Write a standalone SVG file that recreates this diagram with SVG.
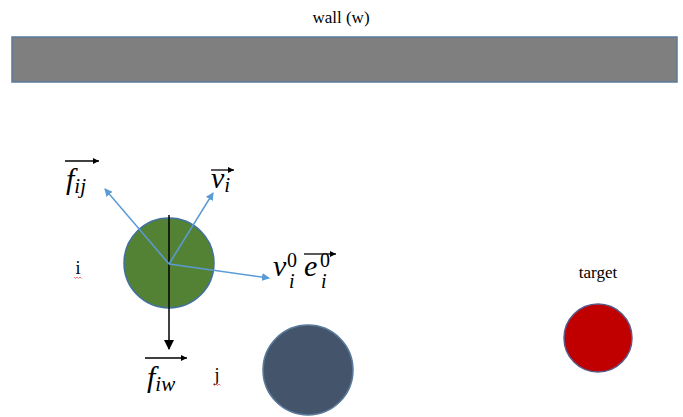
<svg xmlns="http://www.w3.org/2000/svg" width="683" height="417" viewBox="0 0 683 417">
<defs>
<marker id="blueHead" markerWidth="8" markerHeight="8" refX="7" refY="4" orient="auto" markerUnits="userSpaceOnUse"><path d="M0,0 L8,4 L0,8 Z" fill="#5B9BD5"/></marker>
<marker id="blackHead" markerWidth="10" markerHeight="10" refX="9" refY="5" orient="auto" markerUnits="userSpaceOnUse"><path d="M0,0 L10,5 L0,10 Z" fill="#000"/></marker>
<marker id="vecHead" markerWidth="6" markerHeight="6" refX="6" refY="3" orient="auto" markerUnits="userSpaceOnUse"><path d="M0,0 L6,3 L0,6 Z" fill="#000"/></marker>
</defs>
<style>
.lbl{font-family:"Liberation Serif",serif;fill:#000}
.math{font-family:"Liberation Serif",serif;font-style:italic;fill:#000}
.up{font-style:normal}
.blue{stroke:#5B9BD5;stroke-width:1.5;fill:none;marker-end:url(#blueHead)}
.vec{stroke:#000;stroke-width:1.3;fill:none;marker-end:url(#vecHead)}
.squig{stroke:#E05050;stroke-width:0.8;fill:none}
</style>
<rect width="683" height="417" fill="#fff"/>
<g id="wall">
<text class="lbl" x="341" y="23" font-size="17" text-anchor="middle">wall (w)</text>
<rect x="12" y="37" width="665" height="45" fill="#7F7F7F" stroke="#5A7A9A" stroke-width="1.5"/>
</g>
<g id="pedestrian-i">
<circle cx="169" cy="263" r="45" fill="#548235" stroke="#41719C" stroke-width="1.5"/>
<text class="lbl" x="78" y="274" font-size="18" text-anchor="middle">i</text>
<path class="squig" d="M74,277 l1.5,1.5 l1.5,-1.5 l1.5,1.5 l1.5,-1.5 l1.5,1.5"/>
</g>
<g id="pedestrian-j">
<circle cx="308" cy="370" r="45" fill="#44546A" stroke="#5A7A9A" stroke-width="1.5"/>
<text class="lbl" x="217" y="381" font-size="18" text-anchor="middle">j</text>
<path class="squig" d="M213,384 l1.5,1.5 l1.5,-1.5 l1.5,1.5 l1.5,-1.5 l1.5,1.5"/>
</g>
<g id="target">
<text class="lbl" x="598" y="278" font-size="17" text-anchor="middle">target</text>
<circle cx="598" cy="338" r="34" fill="#C00000" stroke="#5A5A8A" stroke-width="1.5"/>
</g>
<g id="connectors">
<line x1="169" y1="215" x2="169" y2="349" stroke="#000" stroke-width="1.5" marker-end="url(#blackHead)"/>
<line class="blue" x1="169" y1="264" x2="105" y2="189"/>
<line class="blue" x1="169" y1="264" x2="213" y2="193"/>
<line class="blue" x1="169" y1="264" x2="269" y2="278"/>
</g>
<g id="label-fij">
<line class="vec" x1="65" y1="161" x2="99" y2="161"/>
<text class="math" x="66" y="189" font-size="30">f<tspan font-size="21" dy="4">ij</tspan></text>
</g>
<g id="label-vi">
<line class="vec" x1="211" y1="170" x2="234" y2="170"/>
<text class="math" x="211" y="188" font-size="30">v<tspan font-size="21" dy="4">i</tspan></text>
</g>
<g id="label-v0e0">
<line class="vec" x1="304" y1="254" x2="336" y2="254"/>
<text class="math" x="273" y="276" font-size="30">v</text>
<text class="math up" x="287" y="267" font-size="20">0</text>
<text class="math" x="289" y="288" font-size="20">i</text>
<text class="math" x="304" y="276" font-size="30">e</text>
<text class="math up" x="320" y="267" font-size="20">0</text>
<text class="math" x="321" y="288" font-size="20">i</text>
</g>
<g id="label-fiw">
<line class="vec" x1="145" y1="358" x2="187" y2="358"/>
<text class="math" x="147" y="387" font-size="30">f<tspan font-size="21" dy="4">iw</tspan></text>
</g>
</svg>
